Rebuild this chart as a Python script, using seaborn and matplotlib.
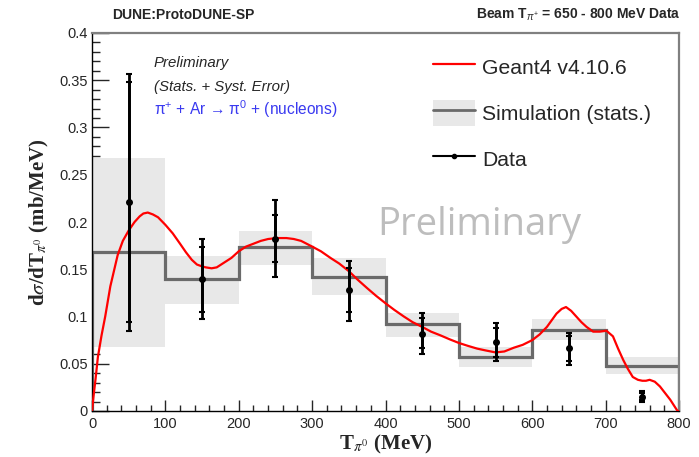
import numpy as np
import pandas as pd
import matplotlib
matplotlib.use("Agg")
import matplotlib.pyplot as plt
import seaborn as sns
from matplotlib.patches import Patch
from matplotlib.lines import Line2D
from matplotlib.ticker import MultipleLocator, FuncFormatter

# ---------------- data ----------------
bin_edges = [0, 100, 200, 300, 400, 500, 600, 700, 800]
sim_values = [0.168, 0.140, 0.174, 0.142, 0.092, 0.057, 0.086, 0.048]
sim_band_lo = [0.068, 0.113, 0.154, 0.123, 0.078, 0.047, 0.075, 0.039]
sim_band_hi = [0.268, 0.164, 0.191, 0.162, 0.104, 0.068, 0.097, 0.057]

data_x = [50, 150, 250, 350, 450, 550, 650, 750]
data_y = [0.221, 0.140, 0.182, 0.128, 0.082, 0.073, 0.067, 0.015]
data_tot_lo = [0.085, 0.097, 0.142, 0.095, 0.060, 0.053, 0.049, 0.010]
data_tot_hi = [0.357, 0.182, 0.223, 0.159, 0.104, 0.093, 0.083, 0.021]
data_stat_lo = [0.094, 0.105, 0.158, 0.105, 0.067, 0.057, 0.053, 0.012]
data_stat_hi = [0.348, 0.174, 0.207, 0.151, 0.098, 0.088, 0.079, 0.019]

g4_x = [0, 2, 5, 8, 13, 18, 25, 35, 42, 50, 58, 65, 70, 76, 83, 90, 95, 100,
        110, 120, 128, 136, 143, 150, 155, 163, 170, 180, 190, 200, 210, 220,
        230, 240, 252, 265, 275, 285, 300, 312, 325, 337, 350, 362, 375, 387,
        400, 412, 425, 437, 450, 462, 475, 487, 500, 512, 525, 537, 550, 562,
        575, 587, 600, 610, 620, 633, 640, 646, 653, 660, 667, 674, 683, 692,
        701, 710, 717, 724, 730, 737, 744, 750, 755, 760, 767, 774, 781, 788,
        793, 798, 800]
g4_y = [0.0, 0.015, 0.035, 0.057, 0.080, 0.100, 0.132, 0.165, 0.180, 0.191,
        0.200, 0.206, 0.209, 0.210, 0.208, 0.205, 0.201, 0.197, 0.188, 0.177,
        0.168, 0.160, 0.155, 0.153, 0.152, 0.151, 0.152, 0.157, 0.162, 0.169,
        0.174, 0.177, 0.180, 0.182, 0.183, 0.183, 0.182, 0.180, 0.174, 0.169,
        0.162, 0.156, 0.148, 0.139, 0.130, 0.122, 0.114, 0.107, 0.100, 0.094,
        0.089, 0.084, 0.080, 0.076, 0.072, 0.069, 0.066, 0.064, 0.062, 0.063,
        0.067, 0.070, 0.075, 0.081, 0.089, 0.103, 0.108, 0.110, 0.106, 0.100,
        0.094, 0.089, 0.084, 0.084, 0.085, 0.079, 0.066, 0.054, 0.045, 0.036,
        0.033, 0.032, 0.032, 0.033, 0.031, 0.026, 0.019, 0.012, 0.006, 0.0,
        0.0]

# ---------------- style ----------------
sns.set_style("white")
plt.rcParams["font.family"] = ["Liberation Sans", "DejaVu Sans"]
plt.rcParams["mathtext.fontset"] = "custom"
plt.rcParams["mathtext.rm"] = "Liberation Sans"
plt.rcParams["mathtext.it"] = "Liberation Sans:italic"
plt.rcParams["mathtext.bf"] = "Liberation Sans:bold"

W, H = 699, 457
fig = plt.figure(figsize=(W / 100, H / 100), dpi=100)
L, R, B, T = 92, 679, 411, 33
ax = fig.add_axes([L / W, 1 - B / H, (R - L) / W, (B - T) / H])

# simulation band + histogram
ax.stairs(sim_band_hi, bin_edges, baseline=sim_band_lo, fill=True,
          color="#e8e8e8", zorder=1, lw=0)
ax.stairs(sim_values, bin_edges, baseline=0, fill=False, color="#6a6a6a",
          lw=2.3, zorder=2)

# Geant4 curve
g4 = pd.DataFrame({"x": g4_x, "y": g4_y})
sns.lineplot(data=g4, x="x", y="y", color="#ff0000", lw=1.6, ax=ax,
             zorder=3, estimator=None, sort=False)

# data points
dy = np.array(data_y)
ax.errorbar(data_x, data_y,
            yerr=[dy - np.array(data_tot_lo), np.array(data_tot_hi) - dy],
            fmt="o", color="black", ms=4, elinewidth=2.0, capsize=2,
            capthick=1.5, zorder=4)
ax.errorbar(data_x, data_y,
            yerr=[dy - np.array(data_stat_lo), np.array(data_stat_hi) - dy],
            fmt="none", color="black", elinewidth=2.0, capsize=2,
            capthick=1.5, zorder=4)

ax.set_xlim(0, 800)
ax.set_ylim(0, 0.4)
ax.xaxis.set_major_locator(MultipleLocator(100))
ax.xaxis.set_minor_locator(MultipleLocator(20))
ax.yaxis.set_major_locator(MultipleLocator(0.05))
ax.yaxis.set_minor_locator(MultipleLocator(0.01))
ax.yaxis.set_major_formatter(FuncFormatter(lambda v, p: "%g" % round(v, 3)))
ax.tick_params(axis="y", which="major", direction="in", length=12, width=1,
               labelsize=10.5, pad=3, left=True, right=False)
ax.tick_params(axis="y", which="minor", direction="in", length=6, width=1,
               left=True, right=False)
ax.tick_params(axis="x", which="major", direction="in", length=8, width=1,
               labelsize=10.5, pad=4, bottom=True, top=False)
ax.tick_params(axis="x", which="minor", direction="in", length=4, width=1,
               bottom=True, top=False)
for s in ["left", "bottom"]:
    ax.spines[s].set_color("black")
    ax.spines[s].set_linewidth(1.0)
for s in ["top", "right"]:
    ax.spines[s].set_color("#808080")
    ax.spines[s].set_linewidth(1.6)

ax.set_xlabel(r"T$_{\pi^{0}}$ (MeV)", fontfamily="Liberation Serif",
              fontweight="bold", fontsize=15, math_fontfamily="stix",
              labelpad=2)
ax.set_ylabel(r"d$\sigma$/dT$_{\pi^{0}}$ (mb/MeV)", fontfamily="Liberation Serif",
              fontweight="bold", fontsize=15, math_fontfamily="stix",
              labelpad=6)

# titles
fig.text(112 / W, 1 - 19 / H, "DUNE:ProtoDUNE-SP", fontsize=10,
         fontweight="bold", ha="left", va="baseline")
fig.text(681 / W, 1 - 19 / H, r"Beam T$_{\pi^{+}}$ = 650 - 800 MeV Data",
         fontsize=10, fontweight="bold", ha="right", va="baseline")

# annotations
fig.text(154 / W, 1 - 67 / H, "Preliminary", fontsize=10.8, style="italic",
         va="baseline")
fig.text(154 / W, 1 - 91 / H, "(Stats. + Syst. Error)", fontsize=10.8,
         style="italic", va="baseline")
fig.text(154 / W, 1 - 115 / H, "π$^{+}$ + Ar → π$^{0}$ + (nucleons)",
         fontsize=11.2, color="#3a3af0", va="baseline")
fig.text(377 / W, 1 - 235 / H, "Preliminary", fontsize=27.5, color="#bdbdbd",
         fontfamily="Open Sans", va="baseline")

# legend
h_g4 = Line2D([], [], color="#ff0000", lw=1.6)
h_sim = (Patch(facecolor="#e8e8e8", edgecolor="none"),
         Line2D([], [], color="#6a6a6a", lw=2.0))
h_dat = Line2D([], [], color="black", lw=1.5, marker="o", ms=3)
leg = ax.legend([h_g4, h_sim, h_dat],
                ["Geant4 v4.10.6", "Simulation (stats.)", "Data"],
                loc="upper left", bbox_to_anchor=(433 / W, 1 - 54 / H),
                bbox_transform=fig.transFigure, frameon=False, fontsize=15.2,
                handlelength=2.0, handleheight=1.5, handletextpad=0.33,
                labelspacing=0.97, borderpad=0, borderaxespad=0)

fig.savefig("out.png", dpi=100)
